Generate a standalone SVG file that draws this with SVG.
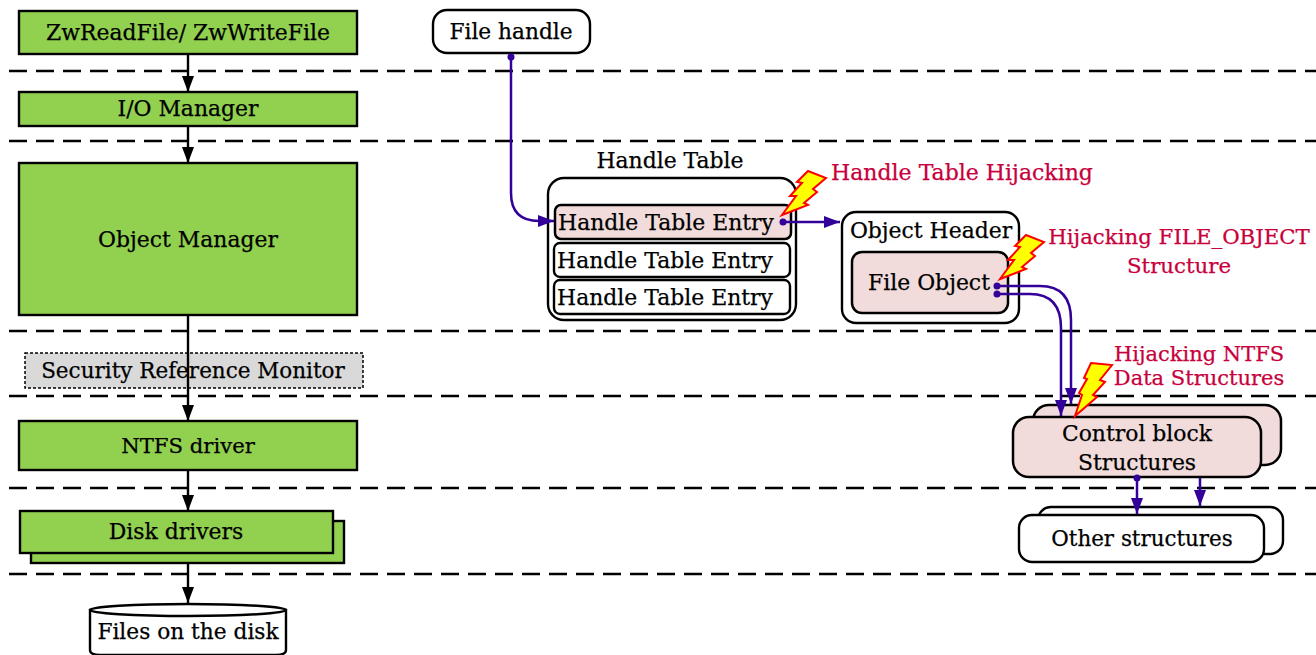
<svg xmlns="http://www.w3.org/2000/svg" width="1316" height="655" viewBox="0 0 1316 655">
<style>
text{font-family:"DejaVu Serif","Liberation Serif",serif;font-size:21.9px;fill:#000;text-anchor:middle;stroke:#000;stroke-width:.25}
.red{fill:#c8003c;stroke:#c8003c}
.g{fill:#92d050;stroke:#000;stroke-width:2.4}
.w{fill:#fff;stroke:#000;stroke-width:2.4}
.p{fill:#f2dcdb;stroke:#000;stroke-width:2.5}
.dash{stroke:#000;stroke-width:2.4;stroke-dasharray:18 9;fill:none}
.k{stroke:#000;stroke-width:2.4;fill:none;marker-end:url(#ka)}
.b{stroke:#330099;stroke-width:2.5;fill:none}
.ba{marker-end:url(#ba)}
.bolt{fill:#ff0;stroke:#f00;stroke-width:2}
</style>
<defs>
<marker id="ka" markerUnits="userSpaceOnUse" markerWidth="16" markerHeight="13" refX="16" refY="6.5" orient="auto"><path d="M0 0.5L16 6.5L0 12.5Z" fill="#000"/></marker>
<marker id="ba" markerUnits="userSpaceOnUse" markerWidth="16" markerHeight="13" refX="16" refY="6.5" orient="auto"><path d="M0 0.5L16 6.5L0 12.5Z" fill="#330099"/></marker>
<polygon id="boltA" points="27,0 45,7 32,18 36,21 23,32 27,34 1,44 15,25 9,25 21,12 16,11"/>
</defs>
<g id="lanes">
<path class="dash" d="M9 71H1316M9 141H1316M9 331H1316M9 396H1316M9 488H1316M9 574H1316"/>
</g>
<g id="node-zw"><rect class="g" x="19" y="11" width="338" height="43"/><text x="188" y="40">ZwReadFile/ ZwWriteFile</text></g>
<g id="node-io"><rect class="g" x="19" y="92" width="338" height="34"/><text x="188" y="116">I/O Manager</text></g>
<g id="node-om"><rect class="g" x="19" y="163" width="338" height="152"/><text x="188" y="247">Object Manager</text></g>
<g id="node-srm"><rect x="25" y="353" width="338" height="35" fill="#d9d9d9" stroke="#000" stroke-width="1.5" stroke-dasharray="3 2"/><text x="193" y="378" style="font-size:21.5px">Security Reference Monitor</text></g>
<g id="node-ntfs"><rect class="g" x="19" y="421" width="338" height="49"/><text x="188" y="453" style="font-size:21.2px">NTFS driver</text></g>
<g id="node-disk"><rect class="g" x="31" y="521" width="313" height="42"/><rect class="g" x="20" y="511" width="313" height="42"/><text x="176" y="539">Disk drivers</text></g>
<g id="node-files"><path class="w" d="M90 610V650Q90 655 100 655H276Q286 655 286 650V610Z"/><ellipse class="w" cx="188" cy="610" rx="98" ry="6"/><text x="188" y="639" style="font-size:21.7px">Files on the disk</text></g>
<g id="node-handle"><rect class="w" x="433" y="10" width="157" height="43" rx="14"/><text x="511" y="39" style="font-size:21.7px">File handle</text></g>
<g id="node-table"><text x="670" y="168">Handle Table</text><rect class="w" x="548" y="178" width="248" height="142" rx="16"/>
<rect class="p" x="555" y="205" width="236" height="34" rx="6"/><text x="666" y="230">Handle Table Entry</text>
<rect class="w" x="554" y="243" width="236" height="34" rx="6"/><text x="665" y="268">Handle Table Entry</text>
<rect class="w" x="554" y="280" width="236" height="34" rx="6"/><text x="665" y="305">Handle Table Entry</text></g>
<g id="node-header"><rect class="w" x="842" y="212" width="177" height="111" rx="14"/><text x="931" y="238">Object Header</text><rect class="p" x="852" y="252" width="156" height="61" rx="10"/><text x="929" y="290">File Object</text></g>
<g id="node-control"><rect class="p" x="1033" y="405" width="248" height="60" rx="16"/><rect class="p" x="1013" y="417" width="248" height="60" rx="16"/><text x="1137" y="441">Control block</text><text x="1137" y="470">Structures</text></g>
<g id="node-other"><rect class="w" x="1038" y="507" width="245" height="47" rx="13"/><rect class="w" x="1019" y="515" width="245" height="47" rx="13"/><text x="1142" y="546" style="font-size:21.4px">Other structures</text></g>
<g id="connectors">
<path class="k" d="M188 54V92"/><path class="k" d="M188 126V163"/><path class="k" d="M188 315V421"/><path class="k" d="M188 470V511"/><path class="k" d="M188 563V603"/>
<path class="b ba" d="M511 57V193Q511 221 539 221H554"/><circle cx="511" cy="57" r="3.5" fill="#330099"/>
<path class="b ba" d="M783 222H840"/><circle cx="783" cy="222" r="3.5" fill="#330099"/>
<path class="b ba" d="M997 286H1040Q1071 286 1071 320V404"/><circle cx="997" cy="286" r="3.5" fill="#330099"/>
<path class="b ba" d="M997 294H1030Q1061 294 1061 328V416"/><circle cx="997" cy="294" r="3.5" fill="#330099"/>
<path class="b ba" d="M1137 478V514"/><circle cx="1137" cy="478" r="3.5" fill="#330099"/>
<path class="b ba" d="M1200 478V506"/>
</g>
<g id="hijack-labels">
<use href="#boltA" class="bolt" transform="translate(781 171)"/>
<text class="red" x="962" y="180" style="font-size:22px">Handle Table Hijacking</text>
<use href="#boltA" class="bolt" transform="translate(999 235)"/>
<text class="red" x="1179" y="244" style="font-size:21.3px">Hijacking FILE_OBJECT</text><text class="red" x="1179" y="273" style="font-size:21.3px">Structure</text>
<polygon class="bolt" points="1091,363 1112,365 1100,380 1105,382 1093,395 1097,397 1075,416 1082,395 1079,393 1087,379 1084,378"/>
<text class="red" x="1199" y="361" style="font-size:21px">Hijacking NTFS</text><text class="red" x="1199" y="385" style="font-size:21px">Data Structures</text>
</g>
</svg>
